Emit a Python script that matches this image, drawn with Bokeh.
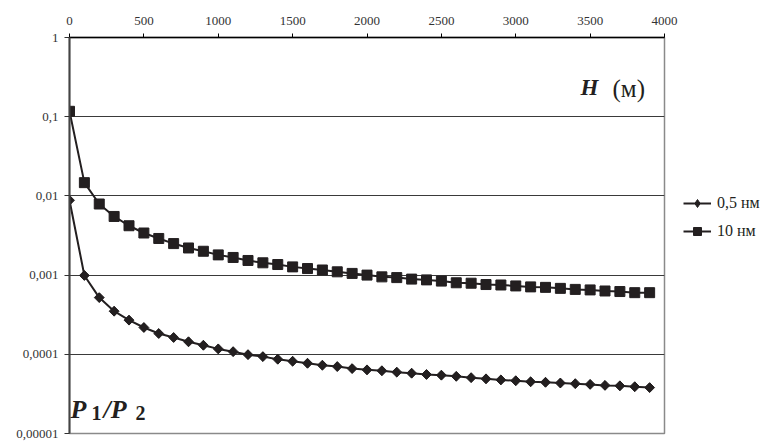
import numpy as np
from bokeh.plotting import figure
from bokeh.models import Range1d, FixedTicker, Legend, LegendItem, Label
from bokeh.embed import file_html
from bokeh.resources import INLINE

# Height H (m)
heights = [0, 100, 200, 300, 400, 500, 600, 700, 800, 900,
           1000, 1100, 1200, 1300, 1400, 1500, 1600, 1700, 1800, 1900,
           2000, 2100, 2200, 2300, 2400, 2500, 2600, 2700, 2800, 2900,
           3000, 3100, 3200, 3300, 3400, 3500, 3600, 3700, 3800, 3900]

# P1/P2 for 0.5 nm
ratio_05nm = [0.0088, 0.00099, 0.00052, 0.00035, 0.00027, 0.000218, 0.000183, 0.000163, 0.000144, 0.00013,
              0.000117, 0.000108, 0.000099, 0.0000935, 0.0000866, 0.0000817, 0.000077, 0.0000728, 0.00007, 0.000066,
              0.0000636, 0.000062, 0.0000595, 0.0000577, 0.0000556, 0.0000545, 0.0000527, 0.0000507, 0.000049, 0.0000475,
              0.0000464, 0.000045, 0.0000443, 0.0000434, 0.0000426, 0.0000417, 0.0000405, 0.00004, 0.000039, 0.000038]

# P1/P2 for 10 nm
ratio_10nm = [0.117, 0.0147, 0.0079, 0.0055, 0.0042, 0.0034, 0.0029, 0.0025, 0.0022, 0.0020,
              0.0018, 0.00167, 0.00153, 0.00143, 0.00136, 0.00127, 0.00121, 0.00116, 0.0011, 0.00105,
              0.001, 0.00095, 0.00093, 0.00089, 0.00087, 0.00084, 0.0008, 0.00079, 0.00076, 0.00075,
              0.00073, 0.00071, 0.0007, 0.00068, 0.00066, 0.00065, 0.00063, 0.00062, 0.0006, 0.0006]

x_ticks = [0, 500, 1000, 1500, 2000, 2500, 3000, 3500, 4000]
y_ticks = [1, 0.1, 0.01, 0.001, 0.0001, 0.00001]
y_tick_labels = ["1", "0,1", "0,01", "0,001", "0,0001", "0,00001"]
series_labels = ["0,5 нм", "10 нм"]

FONT = "Liberation Serif"
INK = "#231f20"

p = figure(frame_width=595, frame_height=396,
           min_border_left=69, min_border_right=106, min_border_top=37, min_border_bottom=8,
           x_axis_location="above", y_axis_type="log",
           x_range=Range1d(0, 4000), y_range=Range1d(0.00001, 1),
           output_backend="svg", toolbar_location=None)

p.background_fill_color = "white"
p.border_fill_color = "white"
p.outline_line_color = "#8a8a8a"
p.outline_line_width = 1.5

# axes
xa = p.xaxis[0]
xa.ticker = FixedTicker(ticks=x_ticks)
xa.axis_line_color = "black"
xa.axis_line_width = 1.5
xa.major_tick_line_color = "black"
xa.major_tick_in = 0
xa.major_tick_out = 4
xa.minor_tick_line_color = None
xa.major_label_standoff = 9
xa.major_label_text_font = FONT
xa.major_label_text_font_size = "13px"
xa.major_label_text_color = "#333333"

ya = p.yaxis[0]
ya.ticker = FixedTicker(ticks=y_ticks)
ya.major_label_overrides = {t: l for t, l in zip(y_ticks, y_tick_labels)}
ya.axis_line_color = "#444444"
ya.axis_line_width = 2
ya.major_tick_line_color = "#333333"
ya.major_tick_in = 0
ya.major_tick_out = 5
ya.minor_tick_line_color = None
ya.major_label_standoff = 6
ya.major_label_text_font = FONT
ya.major_label_text_font_size = "13px"
ya.major_label_text_color = "#333333"

p.xgrid.grid_line_color = None
p.ygrid.ticker = FixedTicker(ticks=y_ticks)
p.ygrid.grid_line_color = "#3a3a3a"
p.ygrid.grid_line_width = 1.2

# series
l1 = p.line(heights, ratio_05nm, line_color=INK, line_width=2)
s1 = p.scatter(heights, ratio_05nm, marker="square", angle=np.pi / 4, size=7,
               fill_color=INK, line_color=INK)
# diamond glyph hidden inside the rotated squares; used for the legend key
s1_key = p.scatter(heights, ratio_05nm, marker="diamond", size=9,
                   fill_color=INK, line_color=INK)
l2 = p.line(heights, ratio_10nm, line_color=INK, line_width=2)
s2 = p.scatter(heights, ratio_10nm, marker="square", size=10,
               fill_color=INK, line_color=INK)

legend = Legend(items=[LegendItem(label=series_labels[0], renderers=[l1, s1_key]),
                       LegendItem(label=series_labels[1], renderers=[l2, s2])],
                location=(19, 192))
legend.border_line_color = None
legend.background_fill_alpha = 0
legend.padding = 0
legend.margin = 0
legend.spacing = 8
legend.glyph_width = 28
legend.glyph_height = 20
legend.label_height = 20
legend.label_standoff = 6
legend.label_text_font = FONT
legend.label_text_font_size = "16px"
legend.label_text_color = INK
p.add_layout(legend, "right")

# axis titles inside plot
def px_to_x(px):
    return (px - 69) / (595 / 4000)

def py_to_y(py):
    return 10 ** (-(py - 37) / (396 / 5))

def add_text(px, py, text, size, style="normal"):
    p.add_layout(Label(x=px_to_x(px), y=py_to_y(py), text=text, text_font=FONT,
                       text_font_style=style, text_font_size=size, text_color=INK,
                       text_baseline="alphabetic"))

add_text(580, 87, "H", "23px", "bold italic")
add_text(612, 88, "(м)", "25px")
add_text(70, 409, "P", "26px", "bold italic")
add_text(91, 412, "1", "20px", "bold")
add_text(103, 409, "/P", "26px", "bold italic")
add_text(135, 412, "2", "20px", "bold")

open("out.html", "w").write(file_html(p, INLINE))
